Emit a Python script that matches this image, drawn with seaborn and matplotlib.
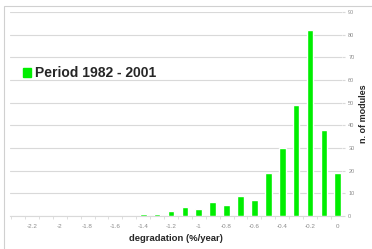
import matplotlib
matplotlib.use("Agg")
import matplotlib.pyplot as plt
import matplotlib.patches as mpatches
import numpy as np
import pandas as pd
import seaborn as sns

# ─── Data ─────────────────────────────────────────────────────────────────────
degradation = [-2.3, -2.2, -2.1, -2.0, -1.9, -1.8, -1.7, -1.6, -1.5, -1.4, -1.3, -1.2,
               -1.1, -1.0, -0.9, -0.8, -0.7, -0.6, -0.5, -0.4, -0.3, -0.2, -0.1, 0.0]
n_modules = [0, 0, 0, 0, 0, 0, 0, 0, 0, 1, 1, 2,
             4, 3, 6, 5, 9, 7, 19, 30, 49, 82, 38, 19]
tick_labels = ["-2.2", "-2", "-1.8", "-1.6", "-1.4", "-1.2", "-1", "-0.8", "-0.6", "-0.4", "-0.2", "0"]
series_name = "Period 1982 - 2001"

GREEN = "#00ee00"
GRID = "#d9d9d9"
TICK = "#8c8c8c"

df = pd.DataFrame({"deg": [f"{d:.1f}" for d in degradation], "n": n_modules})

sns.set_style("white")
plt.rcParams["font.family"] = ["Liberation Sans", "DejaVu Sans"]

fig = plt.figure(figsize=(3.72, 2.49), dpi=100, facecolor="white")
ax = fig.add_axes([10 / 372, 33 / 249, 332 / 372, 204 / 249])

sns.barplot(data=df, x="deg", y="n", color=GREEN, width=0.48, saturation=1,
            order=df["deg"], ax=ax, zorder=3)

ax.set_xlim(-0.58, 23.3)
ax.set_ylim(0, 90)
ax.set_yticks(np.arange(0, 91, 10))
ax.yaxis.tick_right()
ax.yaxis.set_label_position("right")
ax.grid(axis="y", color=GRID, linewidth=0.8, zorder=0)

ax.set_xticks(range(1, 24, 2))
ax.set_xticklabels(tick_labels)
ax.set_xticks(np.arange(-0.5, 23.5, 1), minor=True)
ax.tick_params(axis="x", which="major", length=0, labelsize=4.5, labelcolor=TICK, pad=6)
ax.tick_params(axis="x", which="minor", length=2.5, color=GRID, bottom=True)
ax.tick_params(axis="y", length=2.5, color=GRID, labelsize=4, labelcolor=TICK, pad=2, right=True)

for s in ["top", "left", "right"]:
    ax.spines[s].set_visible(False)
ax.spines["bottom"].set_color(GRID)
ax.spines["bottom"].set_linewidth(0.8)

ax.set_xlabel("degradation (%/year)", fontsize=6.8, fontweight="bold", labelpad=3)
ax.set_ylabel("n. of modules", fontsize=6.5, fontweight="bold", labelpad=3)

handle = mpatches.Patch(color=GREEN, label=series_name)
ax.legend(handles=[handle], loc="center left", bbox_to_anchor=(0.0, 0.70),
          frameon=False, handlelength=0.6, handleheight=0.6, handletextpad=0.3,
          prop={"weight": "bold", "size": 10})

# chart border
fig.patches.append(mpatches.Rectangle((4 / 372, -0.05), 1.1, 0.05 + 243 / 249,
                                      transform=fig.transFigure, fill=False,
                                      edgecolor="#d0d0d0", linewidth=0.8))

fig.savefig("out.png", dpi=100, facecolor="white")
